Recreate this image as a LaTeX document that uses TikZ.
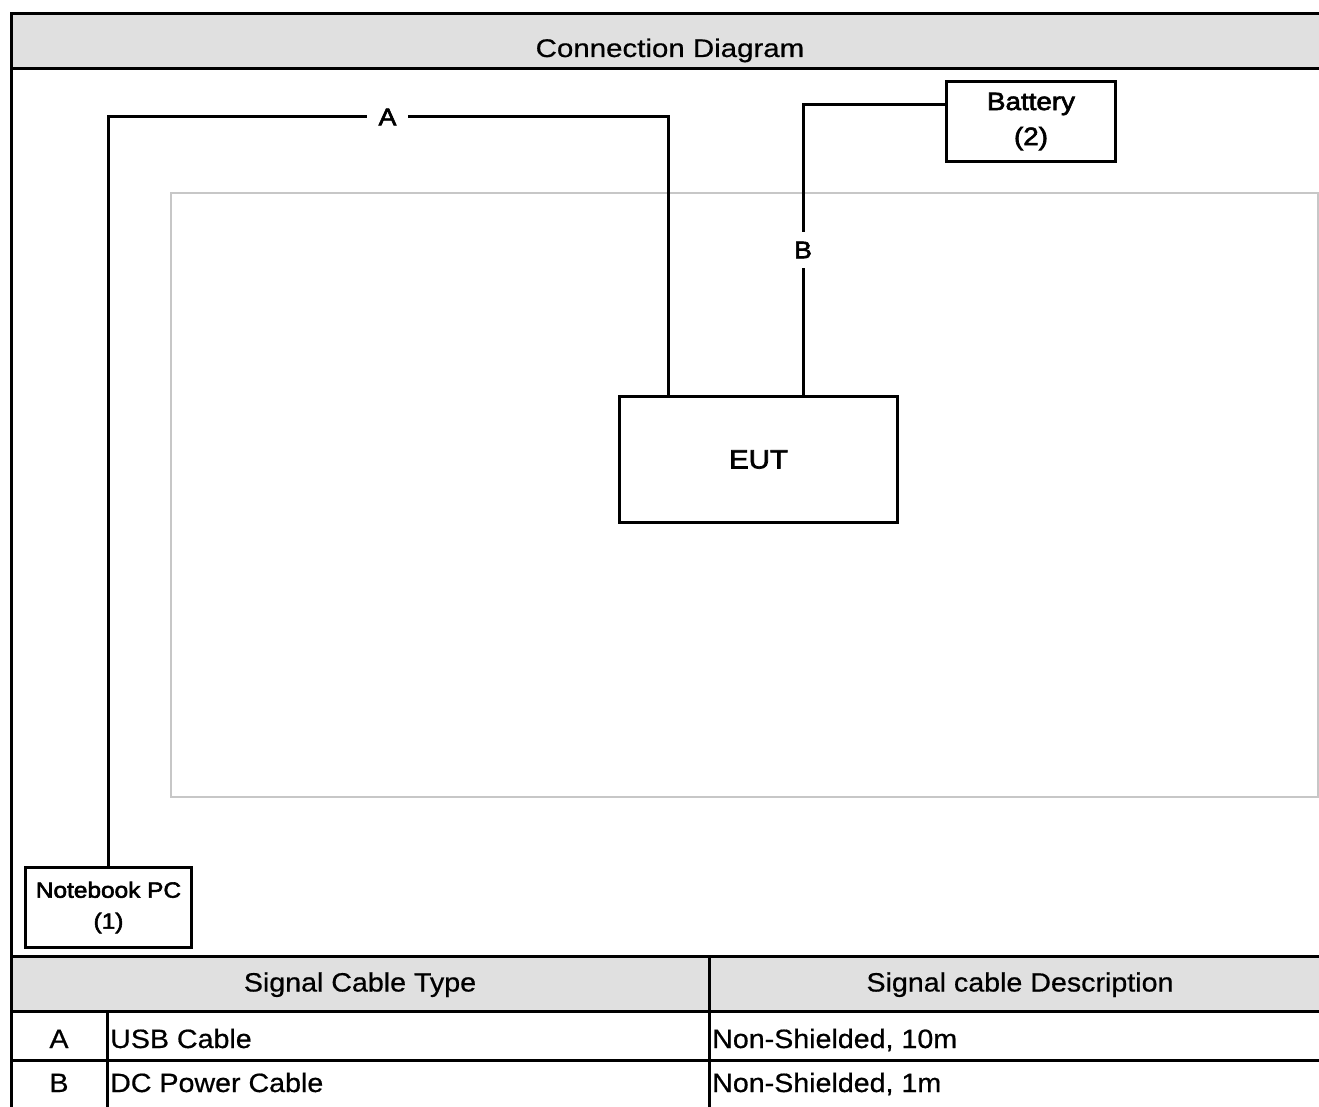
\documentclass[tikz,border=0pt]{standalone}
\usepackage{fontspec}
\setmainfont{Liberation Sans}
\newfontfamily\tfont[FakeStretch=1.08,FakeBold=0.6]{Liberation Sans}
\newfontfamily\dfont[FakeStretch=1.11,FakeBold=2.6]{Liberation Sans}
\newcommand\fsz[2]{\fontsize{#1}{#2}\selectfont}
\definecolor{hdrgray}{HTML}{E0E0E0}
\tikzset{
  rule/.style={line width=3pt, line cap=rect},
  devbox/.style={draw, line width=3.3pt, fill=white, inner sep=0pt, align=center, font=\dfont\fsz{25}{35}},
  cable/.style={line width=3pt, line join=miter},
  cablelabel/.style={inner sep=0pt, font=\dfont\fsz{24}{28}},
  celltext/.style={inner sep=0pt, font=\tfont\fsz{26.5}{30}},
}
\begin{document}
\begin{tikzpicture}[x=1pt,y=-1pt]
\useasboundingbox (0,0) rectangle (1319,1107);
\fill[white] (0,0) rectangle (1319,1107);
% header fills
\fill[hdrgray] (11,14) rectangle (1319,69);
\fill[hdrgray] (11,956.7) rectangle (1319,1011.5);
% table rules
\draw[rule] (11,14) -- (1322,14);
\draw[rule] (11,69) -- (1322,69);
\draw[rule] (11,14) -- (11,1110);
\draw[rule] (11,956.7) -- (1322,956.7);
\draw[rule] (11,1011.5) -- (1322,1011.5);
\draw[rule] (11,1060.7) -- (1322,1060.7);
\draw[rule] (107,1011.5) -- (107,1110);
\draw[rule] (709,956.7) -- (709,1110);
% title
\node[celltext, anchor=base, font=\tfont\fsz{25.5}{30}, xscale=1.07] (title) at (670,57) {Connection Diagram};
% light gray frame
\draw[line width=1.3pt, draw=black!22] (171,193) rectangle (1318,797);
% devices
\node[devbox, minimum width=166pt, minimum height=80pt, font=\dfont\fsz{22}{31}] (nb) at (108.5,907.5) {Notebook PC\\(1)};
\node[devbox, minimum width=169pt, minimum height=80pt] (bat) at (1031,121.5) {Battery\\(2)};
\node[devbox, minimum width=278pt, minimum height=126pt, font=\dfont\fsz{26.5}{30}] (eut) at (758.5,459.5) {EUT};
% cable labels
\node[cablelabel, minimum width=41pt] (labA) at (387.5,117) {A};
\node[cablelabel, minimum height=36pt] (labB) at (803,250) {B};
\coordinate (eutA) at (668,396.5);
\coordinate (eutB) at (803,396.5);
\coordinate (batIn) at (946.5,105);
% cables
\draw[cable] (nb.north) |- (labA.west);
\draw[cable] (labA.east) -| (eutA);
\draw[cable] (eutB) -- (labB.south);
\draw[cable] (labB.north) |- (batIn);
% table text
\node[celltext, anchor=base] (h1) at (360,991.5) {Signal Cable Type};
\node[celltext, anchor=base] (h2) at (1020,991.5) {Signal cable Description};
\node[celltext, anchor=base] (ra) at (59,1048) {A};
\node[celltext, anchor=base west] (rat) at (110,1048) {USB Cable};
\node[celltext, anchor=base west] (rad) at (712,1048) {Non-Shielded, 10m};
\node[celltext, anchor=base] (rb) at (59,1092) {B};
\node[celltext, anchor=base west] (rbt) at (110,1092) {DC Power Cable};
\node[celltext, anchor=base west] (rbd) at (712,1092) {Non-Shielded, 1m};
\end{tikzpicture}
\end{document}
